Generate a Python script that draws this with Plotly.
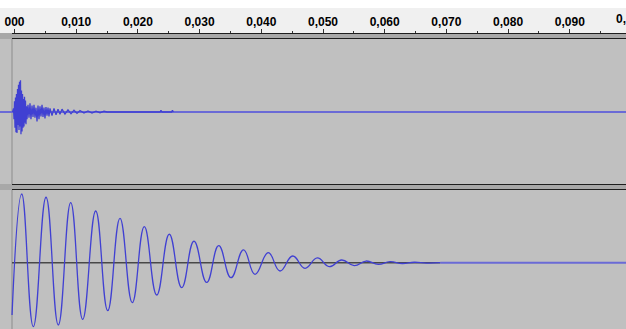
import plotly.graph_objects as go

W, H = 626, 329

# ---- ruler ----
tick_vals = [0.000, 0.010, 0.020, 0.030, 0.040, 0.050, 0.060, 0.070, 0.080, 0.090]
tick_text = ["000", "0,010", "0,020", "0,030", "0,040", "0,050", "0,060", "0,070", "0,080", "0,090"]
minor_vals = [0.005, 0.015, 0.025, 0.035, 0.045, 0.055, 0.065, 0.075, 0.085, 0.095]
edge_tick_val, edge_tick_text = 0.100, "0,100"

# visible time span (seconds)
t_left, t_right = -0.00235, 0.09911

# ---- track 1: short noisy burst (time s, amplitude) ----
burst_t = [-0.00032, -0.00016, -0.00008, 0.00000, 0.00008, 0.00016, 0.00024, 0.00032,
           0.00041, 0.00049, 0.00057, 0.00065, 0.00073, 0.00081, 0.00089, 0.00097,
           0.00105, 0.00113, 0.00122, 0.00130, 0.00138, 0.00146, 0.00154, 0.00162,
           0.00170, 0.00178, 0.00186, 0.00194, 0.00203, 0.00219, 0.00235, 0.00251,
           0.00267, 0.00284, 0.00300, 0.00316, 0.00332, 0.00348, 0.00365, 0.00381,
           0.00397, 0.00413, 0.00429, 0.00446, 0.00462, 0.00478, 0.00494, 0.00510,
           0.00527, 0.00543, 0.00559, 0.00575, 0.00608, 0.00640, 0.00673, 0.00705,
           0.00737, 0.00770, 0.00818, 0.00867, 0.00916, 0.00964, 0.01013, 0.01062,
           0.01126, 0.01191, 0.01256, 0.01321, 0.01386, 0.01451, 0.01500,
           0.02360, 0.02374, 0.02390, 0.02545, 0.02560, 0.02575]
burst_a = [0.00, 0.05, -0.10, 0.15, -0.22, 0.20, -0.28, 0.25,
           -0.29, 0.32, -0.18, 0.38, -0.25, 0.42, -0.20, 0.44,
           -0.31, 0.30, -0.27, 0.25, -0.22, 0.18, -0.20, 0.21,
           -0.15, 0.16, -0.17, 0.08, -0.10, 0.10, -0.08, 0.12,
           -0.10, 0.09, -0.07, 0.10, -0.08, 0.06, -0.13, 0.09,
           -0.10, 0.08, -0.06, 0.10, -0.07, 0.06, -0.09, 0.07,
           -0.05, 0.06, -0.06, 0.05, -0.05, 0.05, -0.04, 0.04,
           -0.03, 0.04, -0.03, 0.03, -0.025, 0.025, -0.02, 0.02,
           -0.015, 0.015, -0.015, 0.012, -0.01, 0.01, 0.0,
           0.0, 0.025, 0.0, 0.0, 0.025, 0.0]

# ---- track 2: damped oscillation, successive extrema (time s, amplitude) ----
wave_t = [-0.00040, 0.00117, 0.00305, 0.00511, 0.00710, 0.00911, 0.01105, 0.01316,
          0.01511, 0.01710, 0.01909, 0.02104, 0.02305, 0.02509, 0.02710, 0.02909,
          0.03115, 0.03310, 0.03509, 0.03712, 0.03898, 0.04113, 0.04303, 0.04509,
          0.04708, 0.04908, 0.05102, 0.05303, 0.05507, 0.05697, 0.05896, 0.06086,
          0.06285, 0.06480, 0.06680, 0.06900]
wave_a = [-0.72, 0.945, -0.880, 0.900, -0.857, 0.825, -0.779, 0.711,
          -0.660, 0.611, -0.550, 0.495, -0.444, 0.391, -0.344, 0.298,
          -0.270, 0.234, -0.206, 0.177, -0.160, 0.138, -0.114, 0.092,
          -0.077, 0.065, -0.055, 0.037, -0.041, 0.023, -0.022, 0.014,
          -0.011, 0.006, -0.005, 0.0]
wave_end = 0.06900


def py(p):
    return 1 - p / H


def px(p):
    return p / W


WAVE = "#4040d2"
FLAT = "#6a6ad6"
TICKFONT = dict(family="Liberation Sans, Arial", size=12, color="black", weight="bold")

fig = go.Figure()

# track 1
fig.add_trace(go.Scatter(x=[t_left, t_right], y=[0, 0], mode="lines",
                         line=dict(color=FLAT, width=2), xaxis="x", yaxis="y",
                         hoverinfo="skip", showlegend=False))
fig.add_trace(go.Scatter(x=burst_t, y=burst_a, mode="lines",
                         line=dict(color=WAVE, width=1.3), xaxis="x", yaxis="y",
                         hoverinfo="skip", showlegend=False))

# track 2
fig.add_trace(go.Scatter(x=[wave_t[0], wave_end], y=[0, 0], mode="lines",
                         line=dict(color="#484848", width=1.6), xaxis="x2", yaxis="y2",
                         hoverinfo="skip", showlegend=False))
fig.add_trace(go.Scatter(x=[wave_end, t_right], y=[0, 0], mode="lines",
                         line=dict(color=FLAT, width=2), xaxis="x2", yaxis="y2",
                         hoverinfo="skip", showlegend=False))
fig.add_trace(go.Scatter(x=wave_t, y=wave_a, mode="lines",
                         line=dict(color=WAVE, width=1.3, shape="spline", smoothing=1.3),
                         xaxis="x2", yaxis="y2", hoverinfo="skip", showlegend=False))

shapes = [
    # top white strip and ruler background
    dict(type="rect", xref="paper", yref="paper", x0=0, x1=1, y0=py(8), y1=1,
         fillcolor="white", line_width=0, layer="below"),
    dict(type="rect", xref="paper", yref="paper", x0=0, x1=1, y0=py(33), y1=py(8),
         fillcolor="#f0f0f0", line_width=0, layer="below"),
]
# separator bands
for top, bot in [(33, 39), (184, 190)]:
    shapes.append(dict(type="rect", xref="paper", yref="paper", x0=0, x1=1,
                       y0=py(bot), y1=py(top), fillcolor="#a8a8a8", line_width=0, layer="below"))
    shapes.append(dict(type="line", xref="paper", yref="paper", x0=px(12), x1=1,
                       y0=py(top + 0.5), y1=py(top + 0.5), line=dict(color="#1e1e1e", width=1.2),
                       layer="below"))
    shapes.append(dict(type="line", xref="paper", yref="paper", x0=px(12), x1=1,
                       y0=py(bot - 0.5), y1=py(bot - 0.5), line=dict(color="#1e1e1e", width=1.2),
                       layer="below"))
# left edge of the tracks
for top, bot in [(39, 184), (190, 329)]:
    shapes.append(dict(type="line", xref="paper", yref="paper", x0=px(12), x1=px(12),
                       y0=py(bot), y1=py(top), line=dict(color="#8c8c8c", width=1),
                       layer="below"))

# the 0,100 label sits just past the visible range, so it is placed in paper units
edge_x = (edge_tick_val - t_left) / (t_right - t_left)

fig.update_layout(
    width=W, height=H,
    margin=dict(l=0, r=0, t=0, b=0),
    paper_bgcolor="#c0c0c0",
    plot_bgcolor="#c0c0c0",
    showlegend=False,
    shapes=shapes,
    xaxis=dict(domain=[0, 1], range=[t_left, t_right], anchor="free", position=py(32.5),
               side="top", showgrid=False, zeroline=False, showline=False,
               tickmode="array", tickvals=tick_vals, ticktext=tick_text,
               ticks="outside", ticklen=4, tickwidth=1, tickcolor="#333333",
               ticklabelstandoff=-2,
               tickfont=TICKFONT,
               minor=dict(tickvals=minor_vals, ticks="outside", ticklen=1.5, tickwidth=1,
                          tickcolor="#333333", showgrid=False),
               fixedrange=True),
    yaxis=dict(domain=[py(184), py(40)], range=[-1, 1], visible=False, fixedrange=True),
    xaxis2=dict(domain=[0, 1], range=[t_left, t_right], matches="x", anchor="y2",
                visible=False, fixedrange=True),
    yaxis2=dict(domain=[0, py(190)], range=[-(329 - 262.7) / 72.7, 1.0], visible=False,
                fixedrange=True),
    annotations=[dict(x=edge_x, xref="paper", xanchor="center", y=py(27), yref="paper",
                      yanchor="bottom", text=edge_tick_text, showarrow=False, font=TICKFONT,
                      borderpad=0)],
)

fig.write_html("out.html", config={"displayModeBar": False},
               post_script="document.body.style.margin='0px';document.body.style.overflow='hidden';")
